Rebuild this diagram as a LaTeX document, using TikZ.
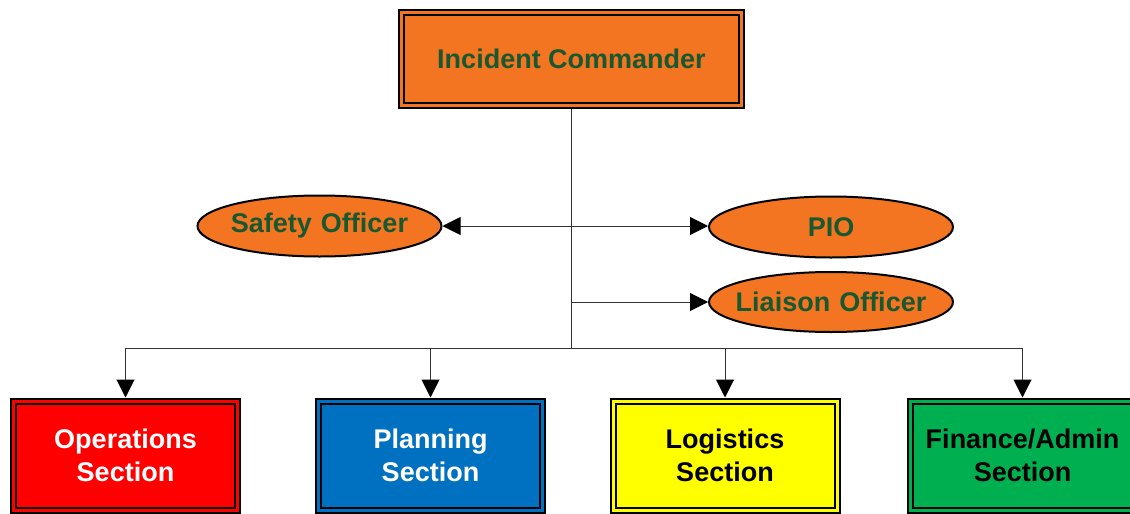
\documentclass[tikz,border=0pt]{standalone}
\usepackage{fontspec}
\setmainfont{Liberation Sans}
\usetikzlibrary{arrows.meta,shapes.geometric}
\definecolor{icorange}{RGB}{243,116,33}
\definecolor{icgreen}{RGB}{24,88,48}
\definecolor{opsred}{RGB}{255,0,0}
\definecolor{planblue}{RGB}{0,112,192}
\definecolor{logyellow}{RGB}{255,255,0}
\definecolor{fingreen}{RGB}{0,176,80}
\tikzset{
  lbl/.style={font=\fontsize{27}{32.5}\selectfont\bfseries, align=center},
  dbox/.style={rectangle, draw=black, line width=2pt, double=#1, double distance=3pt,
    fill=#1, outer sep=3.5pt, inner sep=0pt, lbl},
  secbox/.style={dbox=#1, minimum width=224pt, minimum height=109pt},
  oval/.style={ellipse, draw=black, line width=2pt, fill=icorange, text=icgreen,
    minimum width=244pt, minimum height=61pt, inner sep=0pt, text width=0pt, lbl},
  conn/.style={draw=black!80, line width=1pt},
  tipend/.tip={Triangle[length=18pt,width=18pt,fill=black,color=black]},
  tip/.style={-{tipend}},
}
\newcommand{\ctext}[1]{\makebox[0pt][c]{#1}}
\begin{document}
\begin{tikzpicture}[x=1pt,y=-1pt]
\useasboundingbox (0,0) rectangle (1130,514);
\node[dbox=icorange, text=icgreen, minimum width=340pt, minimum height=93pt] (IC) at (571.5,59) {Incident Commander};
\node[oval] (SO) at (319.5,226) {\ctext{Safety Officer}};
\node[oval] (PIO) at (831,227) {\ctext{PIO}};
\node[oval, minimum height=60pt] (LO) at (831,302) {\ctext{Liaison Officer}};
\node[secbox=opsred, text=white] (OPS) at (125.5,455.5) {Operations\\Section};
\node[secbox=planblue, text=white] (PLN) at (430.5,455.5) {Planning\\Section};
\node[secbox=logyellow, text=black] (LOG) at (725,455.5) {Logistics\\Section};
\node[secbox=fingreen, text=black] (FIN) at (1022.5,455.5) {Finance/Admin\\Section};
\coordinate (bus) at (IC.south |- 0,348);
\coordinate (lj) at (IC.south |- LO.west);
\draw[conn] (IC.south) -- (bus);
\draw[conn, {tipend}-{tipend}] (SO.east) -- (SO.east -| PIO.west);
\draw[conn, tip] (lj) -- (LO.west);
\draw[conn, tip] (bus) -| (OPS.north);
\draw[conn, tip] (bus) -| (PLN.north);
\draw[conn, tip] (bus) -| (LOG.north);
\draw[conn, tip] (bus) -| (FIN.north);
\end{tikzpicture}
\end{document}
